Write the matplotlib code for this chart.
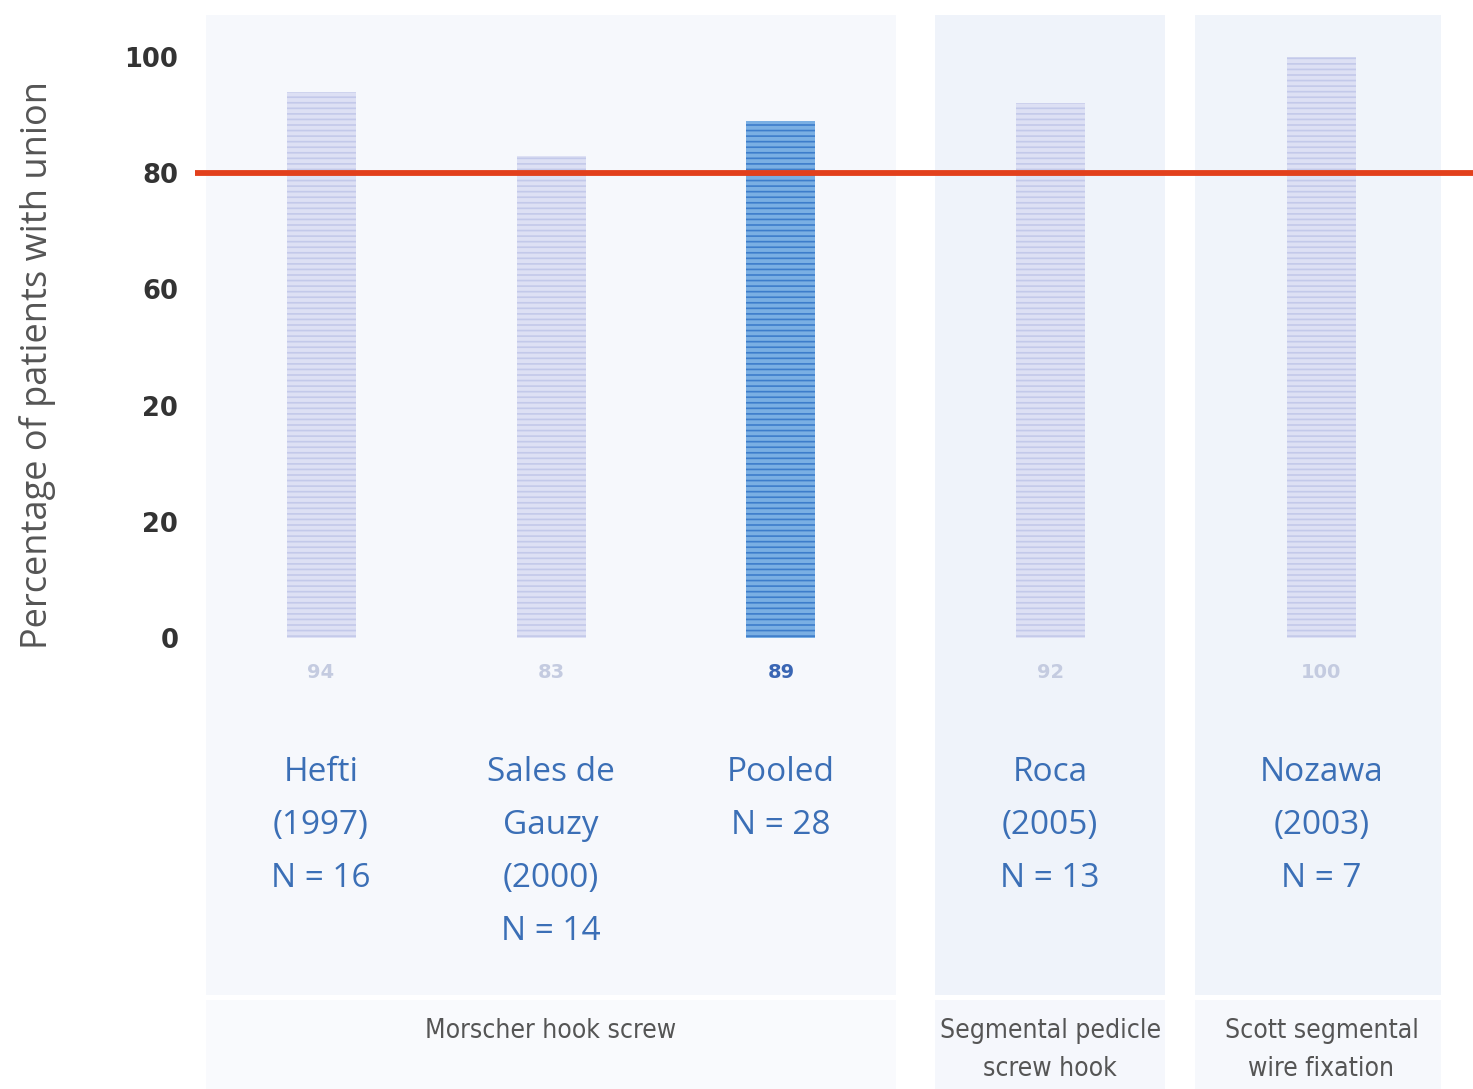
import matplotlib.pyplot as plt
import numpy as np

# data
studies = ['Hefti\n(1997)\nN = 16', 'Sales de\nGauzy\n(2000)\nN = 14', 'Pooled\nN = 28',
           'Roca\n(2005)\nN = 13', 'Nozawa\n(2003)\nN = 7']
union_pct = [94, 83, 89, 92, 100]
value_labels = ['94', '83', '89', '92', '100']
tick_values = [0, 20, 40, 60, 80, 100]
tick_labels = ['0', '20', '20', '60', '80', '100']
threshold = 80
groups = ['Morscher hook screw', 'Segmental pedicle\nscrew hook', 'Scott segmental\nwire fixation']

# layout
xpos = np.array([0, 1, 2, 3.17, 4.35])
group_x = [1.0, 3.17, 4.35]
group_span = [(-0.5, 2.5), (2.67, 3.67), (3.8, 4.87)]
group_bg = ['#f6f8fc', '#eff3fa', '#f0f4fa']

plt.rcParams['hatch.linewidth'] = 1.2

fig = plt.figure(figsize=(14.73, 10.89), dpi=100)
ax = fig.add_axes([195/1473, 0, 1 - 195/1473, 1])
ax.set_xlim(-0.548, 5.009)
ax.set_ylim(-77.6, 109.8)

for (x0, x1), c in zip(group_span, group_bg):
    ax.axvspan(x0, x1, ymin=0.086, ymax=0.986, color=c, lw=0, zorder=0)
    ax.axvspan(x0, x1, ymin=0.0, ymax=0.082, color=c, lw=0, zorder=0, alpha=0.6)

face = ['#dde0f4', '#dde0f4', '#7aafe3', '#dde0f4', '#dde0f4']
stripe = ['#c3c9ea', '#c3c9ea', '#3d7dcb', '#c3c9ea', '#c3c9ea']
bars = ax.bar(xpos, union_pct, width=0.30, color=face, edgecolor=stripe,
              hatch='---', linewidth=0, zorder=2)

ax.axhline(threshold, color='#e2401c', lw=4.2, zorder=3)

lab_col = ['#c4cbe0', '#c4cbe0', '#3a66b4', '#c4cbe0', '#c4cbe0']
for x, t, c in zip(xpos, value_labels, lab_col):
    ax.text(x, -6, t, ha='center', va='center', fontsize=14, color=c,
            fontweight='bold')

for x, s in zip(xpos, studies):
    ax.text(x, -20.3, s, ha='center', va='top', fontsize=24, color='#3b6fb6',
            family='Open Sans', fontweight='medium', linespacing=1.8)

for x, g in zip(group_x, groups):
    ax.text(x, -65.3, g, ha='center', va='top', fontsize=19, color='#555555',
            family='DejaVu Sans', fontstretch='condensed', linespacing=1.6)

ax.set_yticks(tick_values)
ax.set_yticklabels(tick_labels, fontsize=18.5, fontweight='bold', color='#333333')
ax.tick_params(axis='y', length=0, pad=12)
ax.set_xticks([])
for s in ax.spines.values():
    s.set_visible(False)

ax.set_ylabel('Percentage of patients with union', fontsize=26, color='#555555',
              family='Open Sans')
ax.yaxis.set_label_coords(-0.109, 0.665)

fig.savefig('out.png', dpi=100, facecolor='white')
